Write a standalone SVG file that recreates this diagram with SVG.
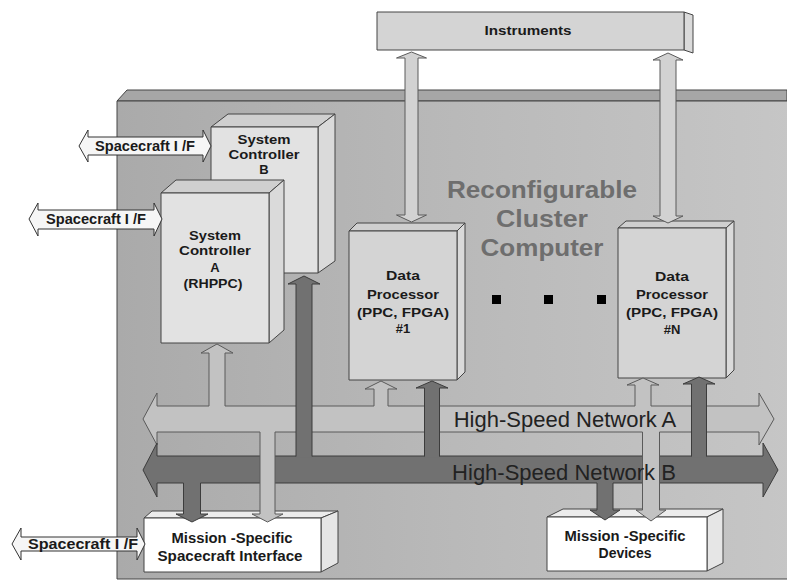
<svg xmlns="http://www.w3.org/2000/svg" width="787" height="581" viewBox="0 0 787 581">
  <defs>
    <linearGradient id="clusterFill" x1="0" y1="0" x2="1" y2="0">
      <stop offset="0" stop-color="#aaaaaa"/>
      <stop offset="0.5" stop-color="#b9b9b9"/>
      <stop offset="1" stop-color="#c6c6c6"/>
    </linearGradient>
    <style>
      text { font-family: "Liberation Sans", Arial, sans-serif; fill: #1a1a1a; text-anchor: middle; }
      .lbl { font-weight: bold; font-size: 15px; }
      .sc { font-weight: bold; font-size: 13px; }
      .small { font-weight: bold; font-size: 13px; }
      .ifl { font-weight: bold; font-size: 14px; }
      .title { font-weight: bold; font-size: 24px; fill: #6e6e6e; }
      .net { font-size: 22px; fill: #222; }
      .face { stroke: #444; stroke-width: 1; stroke-linejoin: round; }
      .front { fill: #e2e2e2; }
      .top { fill: #cfcfcf; }
      .side { fill: #dadada; }
      .white { fill: #ffffff; }
      .wtop { fill: #ececec; }
      .wside { fill: #e6e6e6; }
      .dp { fill: #d4d4d4; }
      .lightFill { fill: #c2c2c2; stroke: none; }
      .instFill { fill: #d2d2d2; stroke: none; }
      .darkFill { fill: #717171; stroke: none; }
      .lightEdge { fill: none; stroke: #5a5a5a; stroke-width: 1; stroke-linejoin: miter; }
      .darkEdge { fill: none; stroke: #3c3c3c; stroke-width: 1; stroke-linejoin: miter; }
      .ifArrow { fill: #f6f6f6; stroke: #333; stroke-width: 1; }
      .dot { fill: #000; }
    </style>
  </defs>

  <rect width="787" height="581" fill="#ffffff"/>

  <!-- cluster enclosure -->
  <g id="cluster">
    <polygon class="face" points="117,101 127,90 787,90 787,101" fill="#a6a6a6"/>
    <rect class="face" x="117" y="101" width="675" height="478" fill="url(#clusterFill)"/>
    <text class="title" x="542" y="198" textLength="190" lengthAdjust="spacingAndGlyphs">Reconfigurable</text>
    <text class="title" x="542" y="227" textLength="92" lengthAdjust="spacingAndGlyphs">Cluster</text>
    <text class="title" x="542" y="256" textLength="123" lengthAdjust="spacingAndGlyphs">Computer</text>
  </g>

  <!-- instruments bar -->
  <g id="instruments">
    <polygon class="face side" points="684,12 693,15 693,53 684,50"/>
    <rect class="face dp" x="377" y="12" width="307" height="38"/>
    <text class="sc" x="528" y="35" textLength="87" lengthAdjust="spacingAndGlyphs">Instruments</text>
  </g>

  <!-- system controller B (behind A) -->
  <g id="sysCtrlB">
    <polygon class="face top" points="211,127 228,114 335,114 318,127"/>
    <polygon class="face side" points="318,127 335,114 335,261 318,273"/>
    <rect class="face front" x="211" y="127" width="107" height="146"/>
    <text class="sc" x="264" y="144" textLength="53" lengthAdjust="spacingAndGlyphs">System</text>
    <text class="sc" x="264" y="159" textLength="71" lengthAdjust="spacingAndGlyphs">Controller</text>
    <text class="sc" x="264" y="174">B</text>
  </g>

  <!-- system controller A -->
  <g id="sysCtrlA">
    <polygon class="face top" points="161,193 176,180 284,180 269,193"/>
    <polygon class="face side" points="269,193 284,180 284,330 269,343"/>
    <rect class="face front" x="161" y="193" width="108" height="150"/>
    <text class="sc" x="215" y="240" textLength="52" lengthAdjust="spacingAndGlyphs">System</text>
    <text class="sc" x="215" y="255" textLength="72" lengthAdjust="spacingAndGlyphs">Controller</text>
    <text class="sc" x="215" y="272">A</text>
    <text class="sc" x="213" y="288" textLength="59" lengthAdjust="spacingAndGlyphs">(RHPPC)</text>
  </g>

  <!-- data processor #1 -->
  <g id="dataProc1">
    <polygon class="face top" points="349,231 357,223 465,223 457,231"/>
    <polygon class="face side" points="457,231 465,223 465,372 457,380"/>
    <rect class="face dp" x="349" y="231" width="108" height="149"/>
    <text class="sc" x="403" y="280" textLength="34" lengthAdjust="spacingAndGlyphs">Data</text>
    <text class="sc" x="403" y="299" textLength="72" lengthAdjust="spacingAndGlyphs">Processor</text>
    <text class="sc" x="403" y="317" textLength="92" lengthAdjust="spacingAndGlyphs">(PPC, FPGA)</text>
    <text class="small" x="403" y="333">#1</text>
  </g>

  <!-- data processor #N -->
  <g id="dataProcN">
    <polygon class="face top" points="618,228 626,221 734,221 726,228"/>
    <polygon class="face side" points="726,228 734,221 734,370 726,378"/>
    <rect class="face dp" x="618" y="228" width="108" height="150"/>
    <text class="sc" x="672" y="281" textLength="34" lengthAdjust="spacingAndGlyphs">Data</text>
    <text class="sc" x="672" y="299" textLength="72" lengthAdjust="spacingAndGlyphs">Processor</text>
    <text class="sc" x="672" y="317" textLength="92" lengthAdjust="spacingAndGlyphs">(PPC, FPGA)</text>
    <text class="small" x="672" y="334">#N</text>
  </g>

  <!-- ellipsis between processors -->
  <g id="ellipsis">
    <rect class="dot" x="492" y="295" width="9" height="9"/>
    <rect class="dot" x="544" y="295" width="9" height="9"/>
    <rect class="dot" x="597" y="295" width="9" height="9"/>
  </g>

  <!-- mission-specific spacecraft interface -->
  <g id="msInterface">
    <polygon class="face wtop" points="144,518 152,511 338,511 321,518"/>
    <polygon class="face wside" points="321,518 338,511 338,563 321,572"/>
    <rect class="face white" x="144" y="518" width="177" height="54"/>
    <text class="ifl" x="232" y="543" textLength="121" lengthAdjust="spacingAndGlyphs">Mission -Specific</text>
    <text class="ifl" x="230" y="561" textLength="145" lengthAdjust="spacingAndGlyphs">Spacecraft Interface</text>
  </g>

  <!-- mission-specific devices -->
  <g id="msDevices">
    <polygon class="face wtop" points="547,517 563,509 723,509 707,517"/>
    <polygon class="face wside" points="707,517 723,509 723,563 707,571"/>
    <rect class="face white" x="547" y="517" width="160" height="54"/>
    <text class="ifl" x="625" y="541" textLength="121" lengthAdjust="spacingAndGlyphs">Mission -Specific</text>
    <text class="ifl" x="625" y="558">Devices</text>
  </g>

  <!-- connectors -->
  <g id="connectors">
    <!-- spacecraft I/F links -->
    <polygon class="ifArrow" points="79,146 88,130 88,137 203,137 203,130 211,146 203,162 203,155 88,155 88,162"/>
    <polygon class="ifArrow" points="29,219 38,203 38,210 154,210 154,203 162,219 154,236 154,229 38,229 38,236"/>
    <polygon class="ifArrow" points="12,544 21,528 21,537 137,537 137,528 145,544 137,560 137,551 21,551 21,560"/>

    <!-- instrument links -->
    <polygon class="instFill" points="411.5,52 426.5,58 418,58 418,215 426.5,215 411.5,222 396.5,215 405,215 405,58 396.5,58"/>
    <polygon class="lightEdge" points="411.5,52 426.5,58 418,58 418,215 426.5,215 411.5,222 396.5,215 405,215 405,58 396.5,58"/>
    <polygon class="instFill" points="668,53 683,60 676,60 676,216 683,216 668,223 653,216 660,216 660,60 653,60"/>
    <polygon class="lightEdge" points="668,53 683,60 676,60 676,216 683,216 668,223 653,216 660,216 660,60 653,60"/>

    <!-- high-speed network A -->
    <polygon class="lightFill" points="143,419 157,393 157,406 759,406 759,393 774,419 759,445 759,432 157,432 157,445"/>
    <polygon class="lightEdge" points="143,419 157,393 157,406 759,406 759,393 774,419 759,445 759,432 157,432 157,445"/>
    <!-- high-speed network B -->
    <polygon class="darkFill" points="143,470 157,443 157,456 763,456 763,443 778,470 763,497 763,483 157,483 157,497"/>
    <polygon class="darkEdge" points="143,470 157,443 157,456 763,456 763,443 778,470 763,497 763,483 157,483 157,497"/>

    <!-- network B up-links -->
    <polygon class="darkFill" points="296,457.5 296,284 288,284 304,276 320,284 312,284 312,457.5"/>
    <polyline class="darkEdge" points="296,456.5 296,284 288,284 304,276 320,284 312,284 312,456.5"/>
    <polygon class="darkFill" points="424.5,457.5 424.5,388 416,388 432,381 448,388 439.5,388 439.5,457.5"/>
    <polyline class="darkEdge" points="424.5,456.5 424.5,388 416,388 432,381 448,388 439.5,388 439.5,456.5"/>
    <polygon class="darkFill" points="691.5,457.5 691.5,384 683,384 699,377 715,384 706.5,384 706.5,457.5"/>
    <polyline class="darkEdge" points="691.5,456.5 691.5,384 683,384 699,377 715,384 706.5,384 706.5,456.5"/>

    <!-- network A up-links -->
    <polygon class="lightFill" points="209,407.5 209,353 201,353 217,344 233,353 225,353 225,407.5"/>
    <polyline class="lightEdge" points="209,406 209,353 201,353 217,344 233,353 225,353 225,406"/>
    <polygon class="lightFill" points="374,407.5 374,389 365,389 381,381 397,389 388,389 388,407.5"/>
    <polyline class="lightEdge" points="374,406 374,389 365,389 381,381 397,389 388,389 388,406"/>
    <polygon class="lightFill" points="635,407.5 635,385 627,385 643,378 659,385 651,385 651,407.5"/>
    <polyline class="lightEdge" points="635,406 635,385 627,385 643,378 659,385 651,385 651,406"/>

    <!-- network B down-links -->
    <polygon class="darkFill" points="183.5,482 183.5,514 176,514 192,522 208,514 200.5,514 200.5,482"/>
    <polyline class="darkEdge" points="183.5,483 183.5,514 176,514 192,522 208,514 200.5,514 200.5,483"/>
    <polygon class="darkFill" points="597,482 597,510 590,510 605,520 620,510 613,510 613,482"/>
    <polyline class="darkEdge" points="597,483 597,510 590,510 605,520 620,510 613,510 613,483"/>

    <!-- network A down-links (over network B) -->
    <polygon class="lightFill" points="260,431 260,514 252,514 267.5,522 283,514 275,514 275,431"/>
    <polyline class="lightEdge" points="260,432 260,514 252,514 267.5,522 283,514 275,514 275,432"/>
    <polygon class="lightFill" points="642.5,431 642.5,510 636,510 651,521 666,510 659.5,510 659.5,431"/>
    <polyline class="lightEdge" points="642.5,432 642.5,510 636,510 651,521 666,510 659.5,510 659.5,432"/>

    <text class="net" x="565" y="427">High-Speed Network A</text>
    <text class="net" x="564" y="480">High-Speed Network B</text>
  </g>

  <g id="ifLabels">
    <text class="ifl" x="145" y="151" textLength="100" lengthAdjust="spacingAndGlyphs">Spacecraft I /F</text>
    <text class="ifl" x="96" y="224" textLength="100" lengthAdjust="spacingAndGlyphs">Spacecraft I /F</text>
    <text class="ifl" x="83" y="549" textLength="110" lengthAdjust="spacingAndGlyphs">Spacecraft I /F</text>
  </g>
</svg>
